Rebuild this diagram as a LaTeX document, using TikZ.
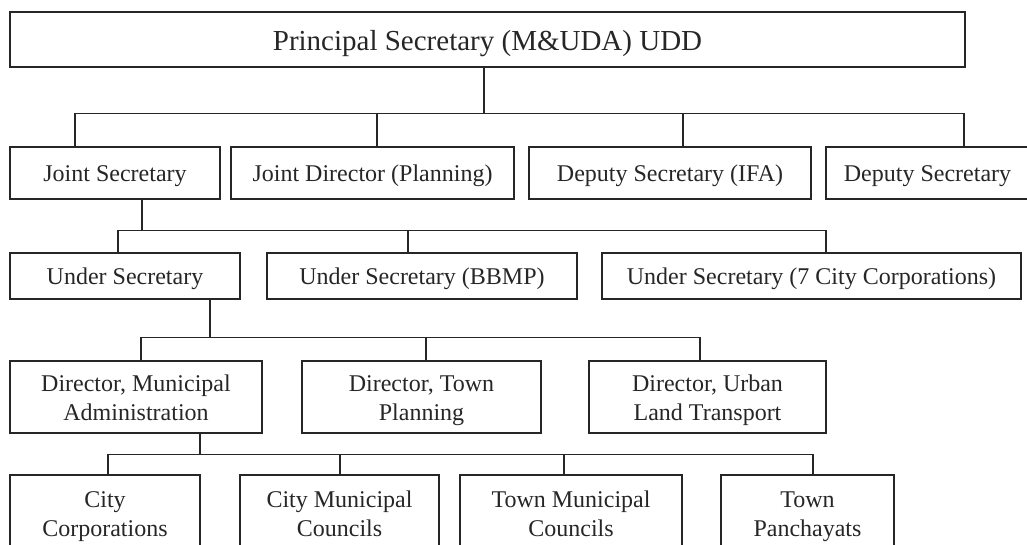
\documentclass[tikz,border=0pt]{standalone}
\usepackage{fontspec}
\setmainfont{Liberation Serif}
\usetikzlibrary{calc}
\definecolor{ink}{HTML}{262626}
\newcommand\sst{\rule[-6pt]{0pt}{29pt}}
\newcommand\tst{\rule[-7pt]{0pt}{35pt}}
\begin{document}
\begin{tikzpicture}[x=1pt,y=-1pt,
  box/.style={draw=ink, text=ink, line width=1.3pt, rectangle, inner sep=0pt, align=center,
    font=\fontsize{24}{29}\selectfont},
  link/.style={draw=ink, line width=1.3pt}]
\useasboundingbox (0,0) rectangle (1027,544);
\clip (0,0) rectangle (1027,544);
% level 1
\node[box, minimum width=955pt, minimum height=55pt, font=\fontsize{29}{35}\selectfont] (top) at (487.5,39.5) {\tst Principal Secretary (M\&UDA) UDD};
% level 2
\node[box, minimum width=210pt, minimum height=52pt] (js)  at (115,173)   {\sst Joint Secretary};
\node[box, minimum width=283pt, minimum height=52pt] (jd)  at (372.5,173) {\sst Joint Director (Planning)};
\node[box, minimum width=282pt, minimum height=52pt] (ifa) at (670,173)   {\sst Deputy Secretary (IFA)};
\node[box, minimum width=203pt, minimum height=52pt] (ds)  at (927.5,173) {\sst Deputy Secretary};
% level 3
\node[box, minimum width=230pt, minimum height=46pt] (us)    at (125,276)   {\sst Under Secretary};
\node[box, minimum width=310pt, minimum height=46pt] (bbmp)  at (422,276)   {\sst Under Secretary (BBMP)};
\node[box, minimum width=419pt, minimum height=46pt] (city7) at (811.5,276) {\sst Under Secretary (7 City Corporations)};
% level 4
\node[box, minimum width=252pt, minimum height=72pt] (dm) at (136,397)   {\sst Director, Municipal\\\sst Administration};
\node[box, minimum width=239pt, minimum height=72pt] (dt) at (421.5,397) {\sst Director, Town\\\sst Planning};
\node[box, minimum width=237pt, minimum height=72pt] (du) at (707.5,397) {\sst Director, Urban\\\sst Land Transport};
% level 5
\node[box, minimum width=190pt, minimum height=76pt] (cc)  at (105,513)   {\sst City\\\sst Corporations};
\node[box, minimum width=199pt, minimum height=76pt] (cmc) at (339.5,513) {\sst City Municipal\\\sst Councils};
\node[box, minimum width=222pt, minimum height=76pt] (tmc) at (571,513)   {\sst Town Municipal\\\sst Councils};
\node[box, minimum width=173pt, minimum height=76pt] (tp)  at (807.5,513) {\sst Town\\\sst Panchayats};
% connectors level 1 -> 2
\coordinate (k1) at ($(top.south)+(-3.5,46)$);
\draw[link] ([xshift=-3.5pt]top.south) -- (k1);
\draw[link] (k1) -| ([xshift=-40pt]js.north);
\draw[link] (k1) -| ([xshift=4.5pt]jd.north);
\draw[link] (k1) -| ([xshift=13pt]ifa.north);
\draw[link] (k1) -| ([xshift=36.5pt]ds.north);
% level 2 -> 3
\coordinate (k2) at ($(js.south)+(27,31)$);
\draw[link] ([xshift=27pt]js.south) -- (k2);
\draw[link] (k2) -| ([xshift=-7pt]us.north);
\draw[link] (k2) -| ([xshift=-14pt]bbmp.north);
\draw[link] (k2) -| ([xshift=14.5pt]city7.north);
% level 3 -> 4
\coordinate (k3) at ($(us.south)+(85,38)$);
\draw[link] ([xshift=85pt]us.south) -- (k3);
\draw[link] (k3) -| ([xshift=5pt]dm.north);
\draw[link] (k3) -| ([xshift=4.5pt]dt.north);
\draw[link] (k3) -| ([xshift=-7.5pt]du.north);
% level 4 -> 5
\coordinate (k4) at ($(dm.south)+(64,21)$);
\draw[link] ([xshift=64pt]dm.south) -- (k4);
\draw[link] (k4) -| ([xshift=3pt]cc.north);
\draw[link] (k4) -| ([xshift=0.5pt]cmc.north);
\draw[link] (k4) -| ([xshift=-7pt]tmc.north);
\draw[link] (k4) -| ([xshift=5.5pt]tp.north);
\end{tikzpicture}
\end{document}
